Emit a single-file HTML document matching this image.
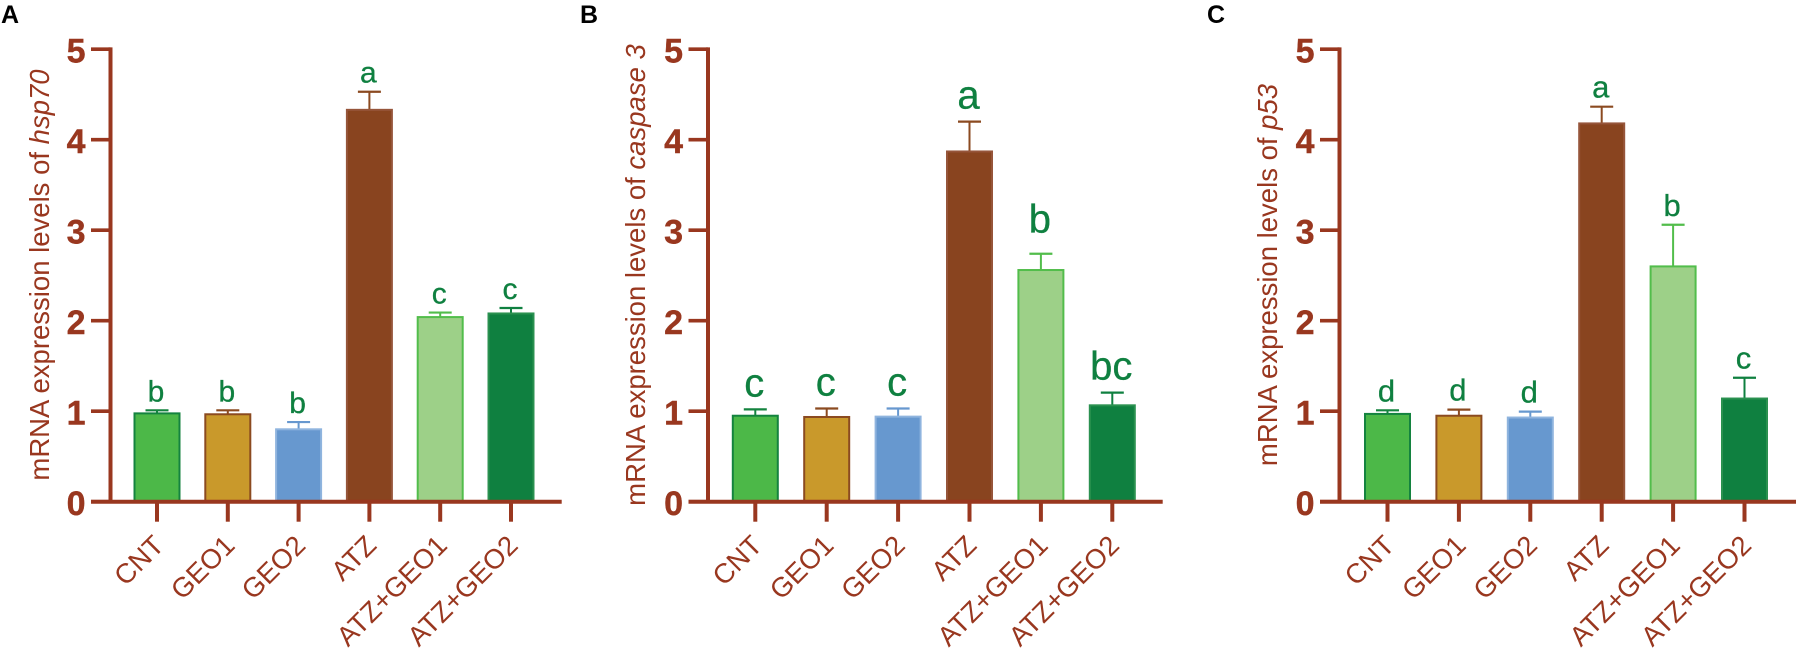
<!DOCTYPE html>
<html lang="en">
<head>
<meta charset="utf-8">
<title>mRNA expression levels</title>
<style>
html,body{margin:0;padding:0;background:#fff;}
svg{display:block;width:1796px;height:654px;font-family:"Liberation Sans",Arial,sans-serif;}
</style>
</head>
<body>
<svg id="figure" xmlns="http://www.w3.org/2000/svg" width="1796" height="654" viewBox="0 0 1796 654"></svg>
<script>
// ---- data ----
const categories = ["CNT", "GEO1", "GEO2", "ATZ", "ATZ+GEO1", "ATZ+GEO2"];
const yTickLabels = [0, 1, 2, 3, 4, 5];

const hsp70Means = [0.976, 0.966, 0.80, 4.33, 2.04, 2.08];
const hsp70Errors = [0.034, 0.044, 0.08, 0.20, 0.05, 0.06];
const hsp70Letters = ["b", "b", "b", "a", "c", "c"];

const caspaseMeans = [0.95, 0.936, 0.94, 3.87, 2.56, 1.065];
const caspaseErrors = [0.07, 0.094, 0.09, 0.33, 0.18, 0.14];
const caspaseLetters = ["c", "c", "c", "a", "b", "bc"];

const p53Means = [0.97, 0.95, 0.93, 4.18, 2.60, 1.14];
const p53Errors = [0.04, 0.067, 0.065, 0.185, 0.46, 0.23];
const p53Letters = ["d", "d", "d", "a", "b", "c"];

const barFills = ["#4cb848", "#c9992b", "#6798cf", "#89441f", "#9dd088", "#0f8040"];
const barStrokes = ["#14833f", "#8b4a20", "#8fb4de", "#96553a", "#52bd4b", "#2b9150"];
const errorColors = ["#14833f", "#8b4a20", "#6798cf", "#8b4a20", "#52bd4b", "#0f8040"];

const AXIS_COLOR = "#99371f";
const LETTER_COLOR = "#0f8040";
const Y_ZERO = 501.7;
const Y_UNIT = 90.5;

const panels = [
  {key:"a", tag:"A", tagX:1, axisX:110.5, firstX:157, step:70.8, endX:561.7,
   gene:"hsp70", titleX:49, means:hsp70Means, errors:hsp70Errors, letters:hsp70Letters,
   letterSize:30, letterGap:9},
  {key:"b", tag:"B", tagX:580, axisX:708, firstX:755.3, step:71.4, endX:1162.7,
   gene:"caspase 3", titleX:645, means:caspaseMeans, errors:caspaseErrors, letters:caspaseLetters,
   letterSize:40, letterGap:13, extraGapIndex:4, extraGap:8},
  {key:"c", tag:"C", tagX:1207, axisX:1339.5, firstX:1387.5, step:71.4, endX:1796,
   gene:"p53", titleX:1277, means:p53Means, errors:p53Errors, letters:p53Letters,
   letterSize:31, letterGap:9}
];

// ---- helpers ----
const SVG_NS = "http://www.w3.org/2000/svg";
const figure = document.getElementById("figure");
function yScale(v){ return Y_ZERO - v * Y_UNIT; }
function xScale(p, i){ return p.firstX + i * p.step; }
function make(tag, attrs, parent){
  const el = document.createElementNS(SVG_NS, tag);
  for (const k in attrs) el.setAttribute(k, attrs[k]);
  parent.appendChild(el);
  return el;
}

panels.forEach(function(p){
  const g = make("g", {}, figure);
  
  

  const tag = make("text", {x:p.tagX, y:23, "font-size":25, "font-weight":"bold", fill:"#000"}, g);
  tag.textContent = p.tag;
  
  

  // y-axis title
  const title = make("text", {
    transform:"translate(" + p.titleX + " 275) rotate(-90)",
    "text-anchor":"middle", "font-size":27.5, fill:AXIS_COLOR
  }, g);
  
  
  title.appendChild(document.createTextNode("mRNA expression levels of "));
  const gene = make("tspan", {"font-style":"italic"}, title);
  gene.textContent = p.gene;

  // bars and error bars
  p.means.forEach(function(m, i){
    const cx = xScale(p, i);
    const top = yScale(m);
    const errTop = yScale(m + p.errors[i]);

    const stem = make("line", {x1:cx, x2:cx, y1:top, y2:errTop, stroke:errorColors[i], "stroke-width":2}, g);
    
    
    const cap = make("line", {x1:cx - 11.5, x2:cx + 11.5, y1:errTop, y2:errTop, stroke:errorColors[i], "stroke-width":2.2}, g);
    
    

    const bar = make("rect", {
      x:cx - 22.5, y:top, width:45, height:Y_ZERO - top,
      fill:barFills[i], stroke:barStrokes[i], "stroke-width":2
    }, g);
    
    

    const gap = p.letterGap + (p.extraGapIndex === i ? p.extraGap : 0);
    const letter = make("text", {
      x:cx - 1, y:errTop - gap, "text-anchor":"middle",
      "font-size":p.letterSize, fill:LETTER_COLOR, stroke:LETTER_COLOR, "stroke-width":0.3
    }, g);
    letter.textContent = p.letters[i];
    
    
  });

  // y axis
  const yAxis = make("line", {x1:p.axisX, x2:p.axisX, y1:yScale(5) - 1.8, y2:Y_ZERO, stroke:AXIS_COLOR, "stroke-width":4}, g);
  
  
  yTickLabels.forEach(function(t){
    const y = yScale(t);
    const tick = make("line", {x1:p.axisX - 19.5, x2:p.axisX, y1:y, y2:y, stroke:AXIS_COLOR, "stroke-width":3.6}, g);
    
    
    const label = make("text", {
      x:p.axisX - 25, y:y + 13.5, "text-anchor":"end",
      "font-size":34, "font-weight":"bold", fill:AXIS_COLOR, stroke:AXIS_COLOR, "stroke-width":0.4
    }, g);
    label.textContent = t;
    
    
  });

  // x axis
  const xAxis = make("line", {x1:p.axisX - 19.5, x2:p.endX, y1:Y_ZERO, y2:Y_ZERO, stroke:AXIS_COLOR, "stroke-width":4}, g);
  
  
  categories.forEach(function(c, i){
    const cx = xScale(p, i);
    const tick = make("line", {x1:cx, x2:cx, y1:Y_ZERO, y2:521.7, stroke:AXIS_COLOR, "stroke-width":4}, g);
    
    
    const label = make("text", {
      transform:"translate(" + (cx + 8.5) + " 547) rotate(-45)",
      "text-anchor":"end", "font-size":27.5, fill:AXIS_COLOR
    }, g);
    label.textContent = c;
    
    
  });
});
</script>
</body>
</html>
